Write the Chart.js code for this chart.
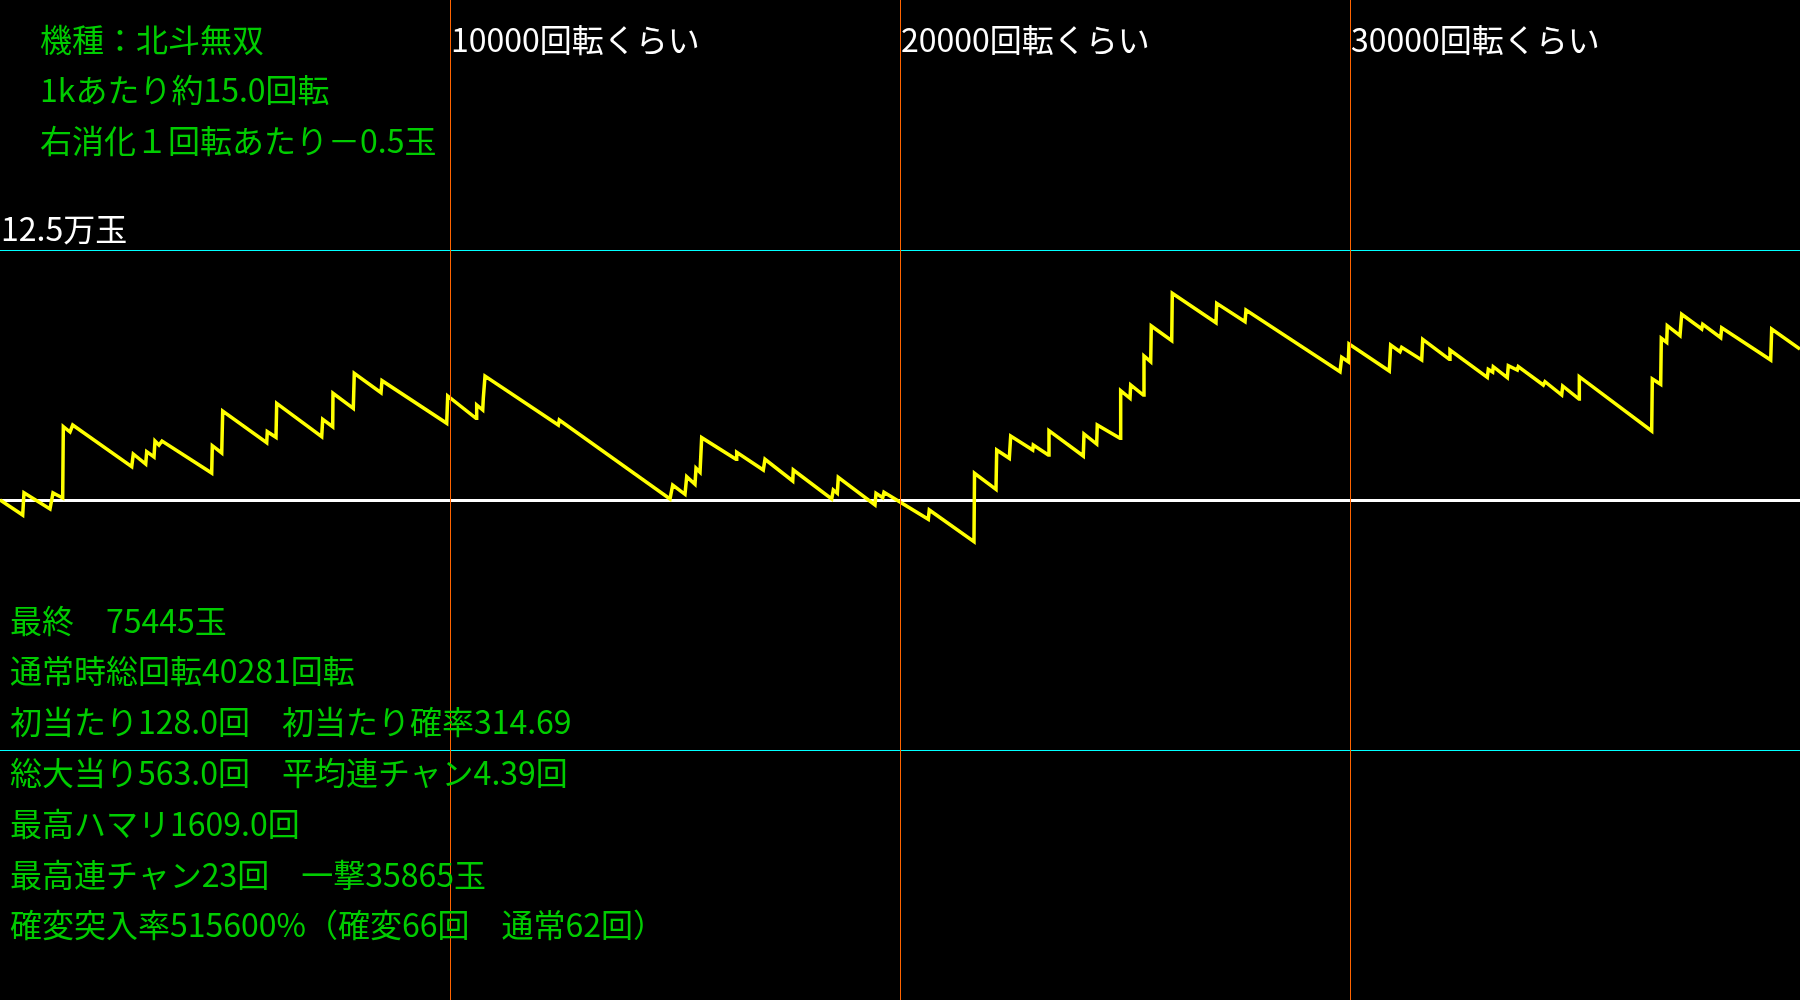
<!DOCTYPE html>
<html>
<head>
<meta charset="utf-8">
<script src="https://cdn.jsdelivr.net/npm/chart.js@4.4.1/dist/chart.umd.min.js"></script>
<style>
  html, body { margin: 0; padding: 0; background: #000; overflow: hidden; }
  #wrap { position: relative; width: 1800px; height: 1000px; }
  #chart { position: absolute; left: 0; top: 0; }
  .t {
    position: absolute;
    font-family: "Noto Sans CJK JP", "Noto Sans", sans-serif;
    font-size: 32px;
    line-height: 32px;
    white-space: pre;
    color: #00cc00;
  }
  .w { color: #ffffff; }
</style>
</head>
<body>
<div id="wrap">
  <canvas id="chart" width="1800" height="1000"></canvas>
</div>
<script>
// spins (通常時回転数) and balls (差玉)
const spins = [0,504,533,1111,1178,1393,1407,1556,1616,2927,
  2962,3238,3260,3422,3444,3533,3600,4704,4718,4927,
  4949,5927,5940,6133,6149,7149,7171,7393,7400,7851,
  7873,8467,8489,9927,9949,10578,10593,10727,10740,10778,
  12407,12429,14889,14949,15222,15260,15444,15467,15556,15593,
  16356,16371,16962,17000,17616,17629,18482,18518,18607,18629,
  19444,19467,19616,19644,20629,20651,21644,21656,22133,22149,
  22429,22460,22949,22962,23296,23311,24073,24089,24371,24384,
  24889,24904,25111,25127,25407,25422,25571,25584,26038,26051,
  27022,27038,27667,27689,29778,29816,29962,29978,30873,30904,
  31111,31149,31593,31616,32207,32222,33051,33073,33170,33184,
  33496,33518,33718,33740,34296,34333,34704,34727,35089,35096,
  36704,36718,36904,36918,37038,37051,37333,37371,37816,37838,
  38238,38260,39349,39371,40000];
const balls = [0,-7500,3650,-4500,3500,1000,36650,34000,37500,16650,
  23000,18000,24150,21500,29500,27500,29500,13500,27150,23500,
  44500,28650,34150,31350,48350,31650,40350,36650,53350,45850,
  63350,53650,59650,38350,52000,40850,47500,45000,50850,62000,
  37500,40000,500,7500,2850,11650,7850,15850,13850,31150,
  20350,23850,15000,20350,9500,15000,500,5000,3350,11350,
  -2500,3350,1150,3850,-9650,-5000,-20850,13350,5350,25000,
  20850,32000,25000,27500,22500,34650,22000,33000,28000,37500,
  30850,54650,50850,57500,52500,72000,69150,87000,79650,103350,
  88650,98350,89150,95000,64150,71350,69150,78000,64500,77500,
  74150,76350,70000,80350,70350,75000,61350,65350,64000,66650,
  61150,67150,65000,66650,57500,59150,52500,57000,50500,61650,
  34500,60500,57850,80850,78850,87150,82150,92850,85500,87850,
  81150,86150,70000,85500,75445];

// tick marks and their labels
const spinMarks = [10000, 20000, 30000];
const spinLabels = ['10000回転くらい', '20000回転くらい', '30000回転くらい'];
const ballMarks = [-125000, 0, 125000];
const ballLabel = '12.5万玉';

// text blocks
const infoLines = ['機種：北斗無双', '1kあたり約15.0回転', '右消化１回転あたり－0.5玉'];
const statLines = [
  '最終　75445玉',
  '通常時総回転40281回転',
  '初当たり128.0回　初当たり確率314.69',
  '総大当り563.0回　平均連チャン4.39回',
  '最高ハマリ1609.0回',
  '最高連チャン23回　一撃35865玉',
  '確変突入率515600%（確変66回　通常62回）'
];

const ctx = document.getElementById('chart').getContext('2d');

const bgPlugin = {
  id: 'bg',
  beforeDraw(chart) {
    const c = chart.ctx;
    c.save();
    c.fillStyle = '#000';
    c.fillRect(0, 0, chart.width, chart.height);
    c.restore();
  }
};

const chart = new Chart(ctx, {
  type: 'line',
  data: {
    datasets: [{
      data: spins.map((s, i) => ({ x: s, y: balls[i] })),
      borderColor: '#ffff00',
      borderWidth: 3.5,
      pointRadius: 0,
      tension: 0,
      fill: false
    }]
  },
  options: {
    responsive: false,
    animation: false,
    layout: { padding: 0 },
    plugins: { legend: { display: false }, tooltip: { enabled: false } },
    scales: {
      x: {
        type: 'linear',
        min: 0,
        max: 40000,
        ticks: { display: false, stepSize: 10000 },
        border: { display: false },
        grid: {
          z: 1,
          drawTicks: false,
          lineWidth: 1,
          color: c => spinMarks.includes(c.tick.value) ? '#ff6400' : 'rgba(0,0,0,0)'
        }
      },
      y: {
        min: -250000,
        max: 250000,
        ticks: { display: false, stepSize: 125000 },
        border: { display: false },
        grid: {
          drawTicks: false,
          lineWidth: c => c.tick.value === 0 ? 3 : 1,
          color: c => {
            if (c.tick.value === 0) return '#ffffff';
            if (ballMarks.includes(c.tick.value)) return '#00ffff';
            return 'rgba(0,0,0,0)';
          }
        }
      }
    }
  },
  plugins: [bgPlugin]
});

// overlay text, placed from the chart scales
const wrap = document.getElementById('wrap');
function addText(str, left, centerY, cls) {
  const d = document.createElement('div');
  d.className = 't' + (cls ? ' ' + cls : '');
  d.textContent = str;
  d.style.left = left + 'px';
  d.style.top = (centerY - 17.5) + 'px';
  wrap.appendChild(d);
}

const xs = chart.scales.x;
const ys = chart.scales.y;
spinMarks.forEach((v, i) => addText(spinLabels[i], xs.getPixelForValue(v) + 1, 39, 'w'));
addText(ballLabel, 1, ys.getPixelForValue(125000) - 22, 'w');
infoLines.forEach((s, i) => addText(s, 40, 39 + i * 50.5));
statLines.forEach((s, i) => addText(s, 10, 620 + i * 50.8));
</script>
</body>
</html>
